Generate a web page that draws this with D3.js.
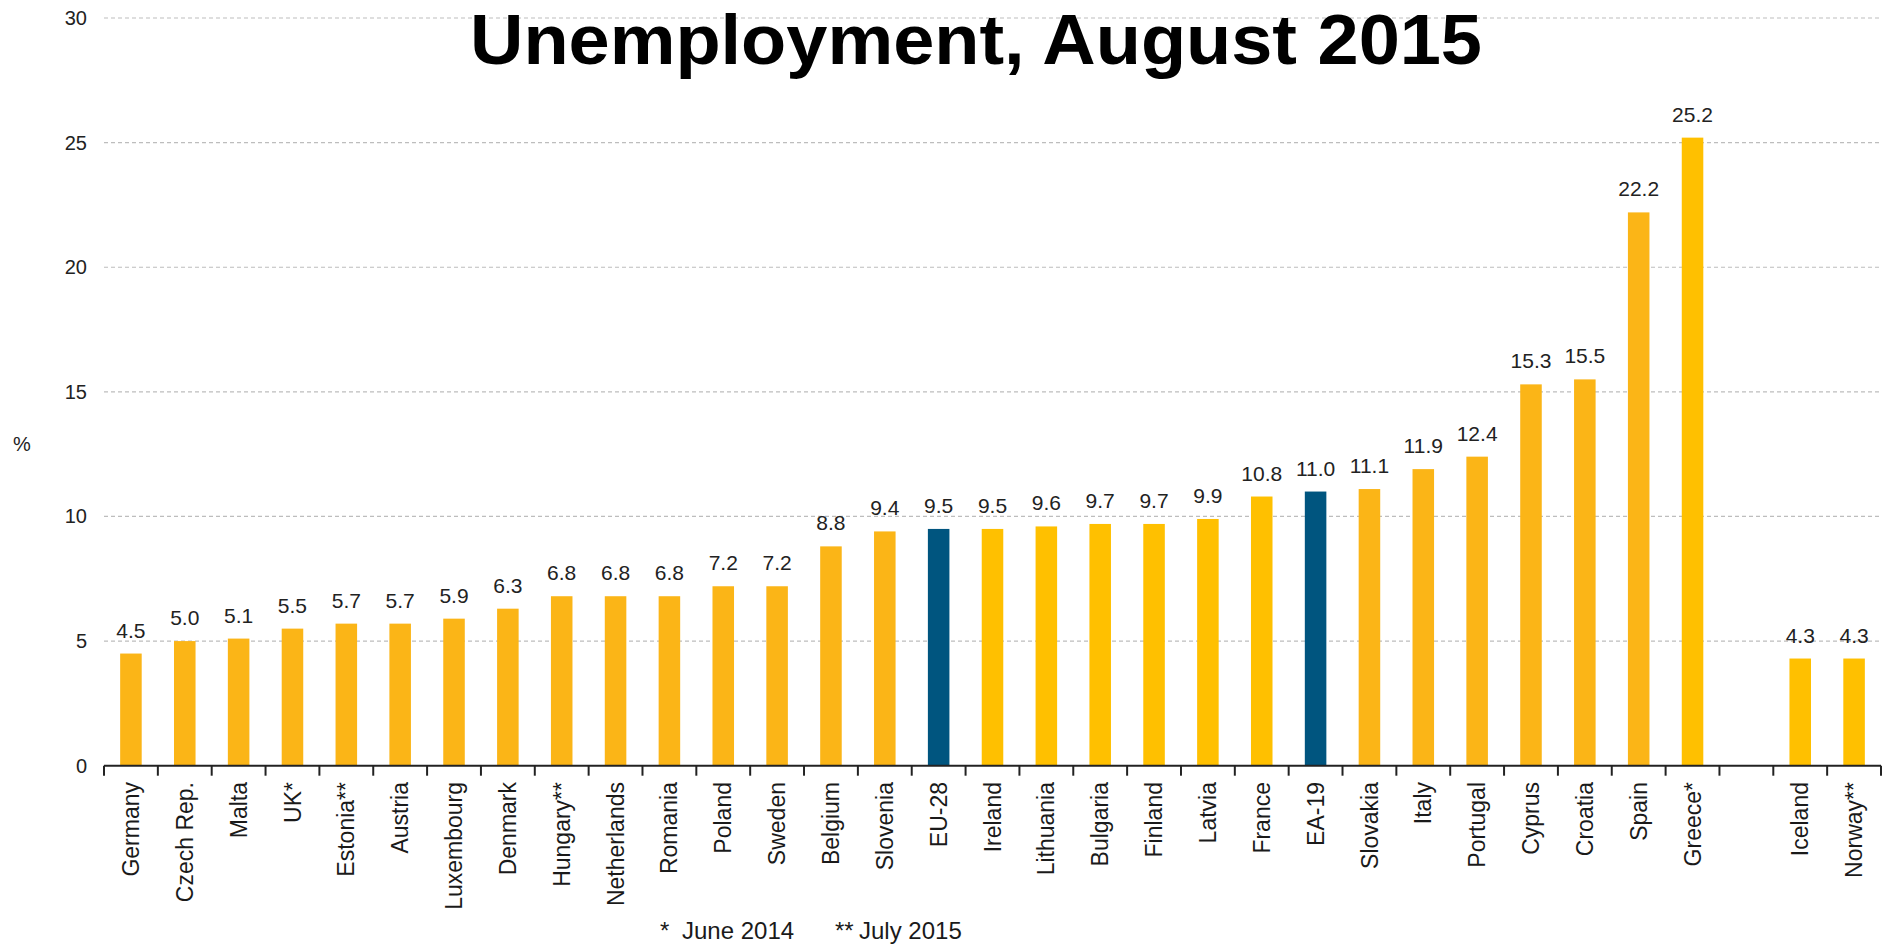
<!DOCTYPE html>
<html>
<head>
<meta charset="utf-8">
<script src="https://cdn.jsdelivr.net/npm/d3@7"></script>
<style>
  html, body { margin: 0; padding: 0; background: #fff; }
  svg { display: block; font-family: "Liberation Sans", Arial, sans-serif; }
</style>
</head>
<body>
<svg id="chart" width="1896" height="946"></svg>
<script>
// Unemployment rates by country, August 2015 (%)
const countries = ["Germany","Czech Rep.","Malta","UK*","Estonia**","Austria","Luxembourg","Denmark",
  "Hungary**","Netherlands","Romania","Poland","Sweden","Belgium","Slovenia","EU-28","Ireland",
  "Lithuania","Bulgaria","Finland","Latvia","France","EA-19","Slovakia","Italy","Portugal","Cyprus",
  "Croatia","Spain","Greece*","Iceland","Norway**"];
const rates = [4.5,5.0,5.1,5.5,5.7,5.7,5.9,6.3,6.8,6.8,6.8,7.2,7.2,8.8,9.4,9.5,9.5,9.6,9.7,9.7,9.9,
  10.8,11.0,11.1,11.9,12.4,15.3,15.5,22.2,25.2,4.3,4.3];
// shade group of each bar: "o" orange, "y" yellow, "b" aggregate (blue)
const shades = ["o","o","o","o","o","o","o","o","o","o","o","o","o","o","o","b","y","y","y","y","y",
  "y","b","o","o","o","o","o","o","y","y","y"];
const gapAfter = "Greece*";          // an empty slot separates the EU countries from EFTA
const yTicks = [0,5,10,15,20,25,30];
const footnotes = [["*", "June 2014"], ["**", "July 2015"]];

const palette = { o: "#FBB517", y: "#FFC000", b: "#00557F" };

const svg = d3.select("#chart");
const x0 = 104, x1 = 1881, yBase = 765.7, yTop = 18;

// slots, including the blank one
const slots = [];
countries.forEach(c => { slots.push(c); if (c === gapAfter) slots.push("__gap__"); });

const x = d3.scaleBand().domain(slots).range([x0, x1]).paddingInner(0.6).paddingOuter(0.3);
const y = d3.scaleLinear().domain([0, 30]).range([yBase, yTop]);

// gridlines
svg.append("g").selectAll("line").data(yTicks.filter(t => t > 0)).join("line")
  .attr("x1", x0).attr("x2", x1)
  .attr("y1", d => y(d)).attr("y2", d => y(d))
  .attr("stroke", "#bdbdbd").attr("stroke-width", 1.2).attr("stroke-dasharray", "4,3");

// y tick labels
svg.append("g").selectAll("text").data(yTicks).join("text")
  .attr("x", 87).attr("y", d => y(d)).attr("dy", "0.35em")
  .attr("text-anchor", "end").attr("font-size", 20).attr("fill", "#222")
  .text(d => d);

svg.append("text").attr("x", 22).attr("y", 451).attr("text-anchor", "middle")
  .attr("font-size", 20).attr("fill", "#222").text("%");

// bars
const data = countries.map((c, i) => ({ c, v: rates[i], s: shades[i] }));
svg.append("g").selectAll("rect").data(data).join("rect")
  .attr("x", d => x(d.c)).attr("width", x.bandwidth())
  .attr("y", d => y(d.v)).attr("height", d => y(0) - y(d.v))
  .attr("fill", d => palette[d.s]);

// value labels
svg.append("g").selectAll("text").data(data).join("text")
  .attr("x", d => x(d.c) + x.bandwidth() / 2).attr("y", d => y(d.v) - 16)
  .attr("text-anchor", "middle").attr("font-size", 21).attr("fill", "#222")
  .text(d => d.v.toFixed(1));

// category axis: baseline and ticks at slot boundaries
const bounds = d3.range(slots.length + 1).map(i => x0 + i * (x1 - x0) / slots.length);
const axis = svg.append("g");
axis.append("line").attr("x1", x0).attr("x2", x1).attr("y1", yBase).attr("y2", yBase)
  .attr("stroke", "#222").attr("stroke-width", 2);
axis.selectAll("line.tick").data(bounds).join("line").attr("class", "tick")
  .attr("x1", d => d).attr("x2", d => d).attr("y1", yBase).attr("y2", yBase + 10)
  .attr("stroke", "#222").attr("stroke-width", 2);

axis.selectAll("text").data(countries).join("text")
  .attr("transform", d => `translate(${x(d) + x.bandwidth() / 2},782) rotate(-90)`)
  .attr("dy", "0.35em").attr("text-anchor", "end")
  .attr("font-size", 23).attr("fill", "#1a1a1a")
  .text(d => d);

// title
svg.append("text").attr("x", 976).attr("y", 64).attr("text-anchor", "middle")
  .attr("font-size", 70).attr("font-weight", "bold").attr("fill", "#000")
  .attr("textLength", 1012).attr("lengthAdjust", "spacingAndGlyphs")
  .text("Unemployment, August 2015");

// footnotes
const fn = svg.append("g").attr("font-size", 24).attr("fill", "#1a1a1a");
const fnX = [[660, 682], [835, 859]];
footnotes.forEach((f, i) => {
  const t = fn.append("text").attr("y", 939);
  t.append("tspan").attr("x", fnX[i][0]).text(f[0]);
  t.append("tspan").attr("x", fnX[i][1]).text(f[1]);
});
</script>
</body>
</html>
